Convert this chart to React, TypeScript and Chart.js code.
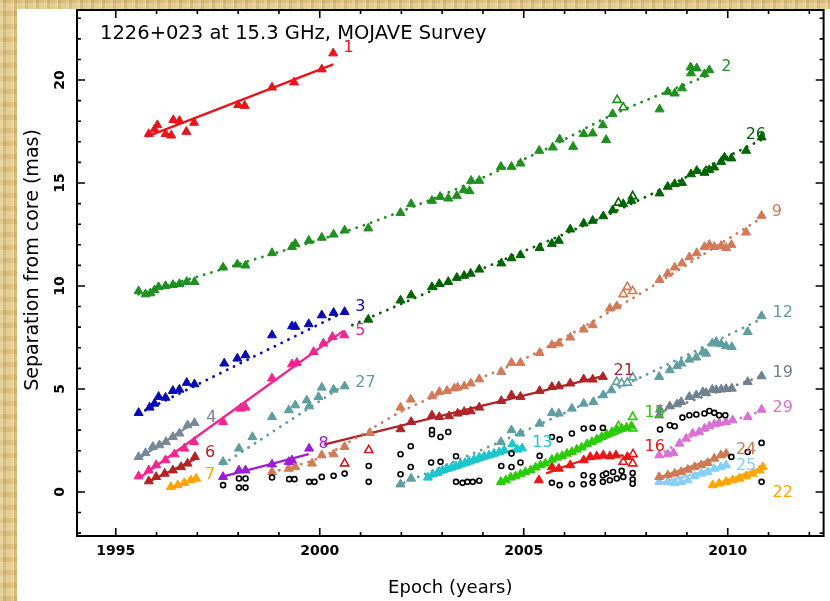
import React, { useEffect, useRef } from "react";
import Chart from "chart.js/auto";

// ---------- axes ----------
const X_MIN = 1994.05;
const X_MAX = 2012.35;
const Y_MIN = -2.14;
const Y_MAX = 23.4;
const xTickLabels = [1995, 2000, 2005, 2010];
const yTickLabels = [0, 5, 10, 15, 20];
const TITLE = "1226+023 at 15.3 GHz, MOJAVE Survey";
const X_TITLE = "Epoch (years)";
const Y_TITLE = "Separation from core (mas)";

// ---------- component 1 ----------
const s1X = [1995.81, 1995.95, 1996.02, 1996.22, 1996.36, 1996.41, 1996.56, 1996.73, 1996.92, 1998.0, 1998.16, 1998.83, 1999.37, 2000.05, 2000.33];
const s1Y = [17.38, 17.6, 17.81, 17.38, 17.31, 18.06, 18.02, 17.49, 17.93, 18.79, 18.75, 19.64, 19.89, 20.52, 21.3];
const fit1X = [1995.76, 2000.33];
const fit1Y = [17.25, 20.76];

// ---------- component 2 ----------
const s2X = [1995.56, 1995.73, 1995.85, 1995.95, 1996.05, 1996.22, 1996.4, 1996.56, 1996.74, 1996.93, 1997.63, 1997.98, 1998.18, 1998.83, 1999.32, 1999.4, 1999.73, 2000.05, 2000.34, 2000.61, 2001.19, 2001.98, 2002.24, 2002.75, 2002.95, 2003.15, 2003.36, 2003.53, 2003.67, 2003.71, 2003.91, 2004.44, 2004.7, 2004.92, 2005.38, 2005.71, 2005.88, 2006.21, 2006.47, 2006.69, 2006.94, 2007.02, 2007.18, 2008.33, 2008.53, 2008.7, 2008.88, 2009.09, 2009.1, 2009.24, 2009.43, 2009.55];
const s2Y = [9.75, 9.6, 9.65, 9.8, 9.95, 10.0, 10.05, 10.1, 10.2, 10.2, 10.9, 11.05, 11.0, 11.6, 11.9, 12.05, 12.2, 12.35, 12.5, 12.7, 12.8, 13.55, 13.98, 14.14, 14.33, 14.25, 14.38, 14.66, 14.61, 15.11, 15.11, 15.79, 15.79, 15.95, 16.57, 16.73, 17.12, 16.76, 17.38, 17.41, 17.81, 17.09, 18.35, 18.58, 19.43, 19.35, 19.6, 20.62, 20.33, 20.57, 20.29, 20.48];
const s2OpenX = [2007.29, 2007.44];
const s2OpenY = [19.03, 18.67];
const fit2X = [1995.56, 1998.0, 2001.43, 2005.49, 2007.11, 2009.6];
const fit2Y = [9.6, 11.05, 13.2, 16.6, 18.25, 20.3];

// ---------- component 26 ----------
const s26X = [2001.19, 2001.98, 2002.24, 2002.75, 2002.93, 2003.15, 2003.36, 2003.54, 2003.7, 2003.91, 2004.45, 2004.7, 2004.92, 2005.39, 2005.69, 2005.86, 2006.14, 2006.47, 2006.69, 2006.95, 2007.18, 2007.44, 2007.64, 2008.33, 2008.53, 2008.7, 2008.88, 2009.1, 2009.24, 2009.43, 2009.55, 2009.67, 2009.84, 2009.92, 2010.09, 2010.45, 2010.83];
const s26Y = [8.37, 9.3, 9.55, 9.95, 10.1, 10.2, 10.4, 10.5, 10.6, 10.8, 11.1, 11.35, 11.5, 11.85, 12.05, 12.2, 12.75, 13.04, 13.17, 13.39, 13.68, 13.98, 14.14, 14.5, 14.82, 14.95, 15.01, 15.43, 15.59, 15.5, 15.63, 15.76, 16.03, 16.24, 16.2, 16.57, 17.22];
const s26OpenX = [2007.32, 2007.67];
const s26OpenY = [14.04, 14.36];
const fit26X = [2000.8, 2004.0, 2007.0, 2010.83];
const fit26Y = [8.1, 10.85, 13.4, 17.1];

// ---------- component 3 ----------
const s3X = [1995.56, 1995.83, 1995.95, 1996.05, 1996.22, 1996.4, 1996.56, 1996.74, 1996.93, 1997.66, 1997.98, 1998.18, 1998.83, 1999.32, 1999.4, 1999.73, 2000.05, 2000.34, 2000.61];
const s3Y = [3.84, 4.1, 4.29, 4.62, 4.58, 4.91, 4.97, 5.3, 5.23, 6.24, 6.48, 6.64, 7.61, 8.05, 8.02, 8.15, 8.58, 8.7, 8.74];
const fit3X = [1995.56, 2000.61];
const fit3Y = [3.8, 8.75];

// ---------- component 5 ----------
const s5X = [1995.56, 1995.81, 1995.99, 1996.22, 1996.44, 1996.68, 1996.92, 1997.63, 1998.06, 1998.18, 1998.83, 1999.32, 1999.44, 1999.85, 2000.09, 2000.31, 2000.6];
const s5Y = [0.76, 1.05, 1.3, 1.54, 1.83, 2.11, 2.43, 3.4, 4.05, 4.1, 5.51, 6.2, 6.27, 6.8, 7.21, 7.53, 7.61];
const fit5X = [1995.56, 2000.58];
const fit5Y = [0.65, 7.82];

// ---------- component 4 ----------
const s4X = [1995.56, 1995.73, 1995.91, 1996.07, 1996.23, 1996.4, 1996.56, 1996.76, 1996.93];
const s4Y = [1.7, 1.89, 2.19, 2.27, 2.43, 2.67, 2.84, 3.24, 3.35];
const fit4X = [1995.56, 1996.95];
const fit4Y = [1.62, 3.4];

// ---------- component 6 ----------
const s6X = [1995.81, 1995.99, 1996.2, 1996.4, 1996.6, 1996.76, 1996.94];
const s6Y = [0.52, 0.73, 0.89, 1.05, 1.21, 1.38, 1.7];
const fit6X = [1995.81, 1996.95];
const fit6Y = [0.5, 1.6];

// ---------- component 7 ----------
const s7X = [1996.35, 1996.52, 1996.68, 1996.84, 1996.97];
const s7Y = [0.24, 0.33, 0.44, 0.57, 0.65];
const fit7X = [1996.3, 1996.98];
const fit7Y = [0.18, 0.68];

// ---------- component 27 ----------
const s27X = [1997.63, 1998.02, 1998.35, 1998.83, 1999.24, 1999.4, 1999.68, 1999.74, 1999.97, 2000.05, 2000.34, 2000.61];
const s27Y = [1.46, 2.11, 2.67, 3.64, 3.97, 4.21, 4.45, 4.16, 4.61, 5.07, 4.97, 5.13];
const fit27X = [1997.63, 2000.61];
const fit27Y = [1.35, 5.2];

// ---------- component 8 ----------
const s8X = [1997.63, 1998.02, 1998.18, 1998.83, 1999.24, 1999.32, 1999.74];
const s8Y = [0.73, 1.05, 1.05, 1.34, 1.46, 1.54, 2.11];
const fit8X = [1997.59, 1999.73];
const fit8Y = [0.73, 1.83];

// ---------- component 9 ----------
const s9X = [1998.83, 1999.24, 1999.4, 1999.81, 2000.05, 2000.34, 2000.61, 2001.23, 2001.98, 2002.23, 2002.75, 2002.93, 2003.12, 2003.3, 2003.38, 2003.54, 2003.7, 2003.91, 2004.45, 2004.7, 2004.92, 2005.39, 2005.69, 2005.86, 2006.14, 2006.47, 2006.69, 2007.11, 2007.28, 2008.33, 2008.53, 2008.7, 2008.88, 2009.06, 2009.24, 2009.43, 2009.55, 2009.67, 2009.84, 2009.96, 2010.09, 2010.45, 2010.83];
const s9Y = [0.97, 1.13, 1.21, 1.38, 1.78, 1.83, 2.19, 2.87, 4.1, 4.49, 4.65, 4.86, 4.91, 5.03, 5.07, 5.13, 5.27, 5.47, 5.83, 6.27, 6.27, 6.75, 7.13, 7.21, 7.5, 7.89, 8.1, 8.91, 9.02, 10.3, 10.6, 10.9, 11.1, 11.4, 11.6, 11.9, 12.0, 11.9, 11.95, 11.85, 12.0, 12.6, 13.41];
const s9OpenX = [2007.44, 2007.54, 2007.67];
const s9OpenY = [9.6, 9.95, 9.75];
const fit9X = [1998.83, 2000.05, 2001.0, 2002.0, 2005.0, 2007.28, 2010.83];
const fit9Y = [0.95, 1.7, 2.75, 3.9, 6.45, 8.95, 13.3];

// ---------- component 21 ----------
const s21X = [2001.98, 2002.24, 2002.75, 2002.93, 2003.17, 2003.38, 2003.54, 2003.7, 2003.91, 2004.45, 2004.7, 2004.92, 2005.39, 2005.69, 2005.86, 2006.14, 2006.47, 2006.69, 2006.94];
const s21Y = [3.05, 3.4, 3.72, 3.64, 3.68, 3.81, 3.89, 3.92, 4.1, 4.42, 4.7, 4.62, 4.91, 5.1, 5.13, 5.27, 5.47, 5.46, 5.59];
const fit21X = [2000.1, 2006.94];
const fit21Y = [2.3, 5.62];

// ---------- component 12 ----------
const s12X = [2001.98, 2002.24, 2004.44, 2004.7, 2004.92, 2005.39, 2005.69, 2005.86, 2006.18, 2006.47, 2006.71, 2006.95, 2007.15, 2008.32, 2008.58, 2008.76, 2008.86, 2009.06, 2009.23, 2009.39, 2009.47, 2009.62, 2009.72, 2009.84, 2009.96, 2010.1, 2010.49, 2010.83];
const s12Y = [0.37, 0.65, 2.43, 3.0, 2.84, 3.32, 3.84, 3.81, 4.05, 4.29, 4.37, 4.7, 4.94, 5.59, 5.91, 6.11, 6.24, 6.43, 6.53, 6.8, 6.72, 7.21, 7.29, 7.18, 7.08, 7.04, 7.77, 8.54];
const s12OpenX = [2007.28, 2007.4, 2007.54, 2007.67];
const s12OpenY = [5.34, 5.27, 5.3, 5.56];
const fit12X = [2001.9, 2004.5, 2007.0, 2010.83];
const fit12Y = [0.3, 2.5, 4.75, 8.4];

// ---------- component 13 ----------
const s13X = [2002.65, 2002.77, 2002.89, 2003.01, 2003.12, 2003.23, 2003.34, 2003.45, 2003.56, 2003.66, 2003.78, 2003.91, 2004.03, 2004.15, 2004.27, 2004.4, 2004.52, 2004.72, 2004.84, 2004.96];
const s13Y = [0.7, 0.86, 0.92, 1.05, 1.14, 1.19, 1.25, 1.35, 1.41, 1.48, 1.57, 1.67, 1.73, 1.78, 1.86, 1.93, 2.03, 2.32, 2.06, 2.12];
const fit13X = [2002.6, 2004.96];
const fit13Y = [0.65, 2.19];

// ---------- component 15 ----------
const s15X = [2004.44, 2004.56, 2004.68, 2004.8, 2004.92, 2005.04, 2005.17, 2005.29, 2005.41, 2005.53, 2005.69, 2005.82, 2005.94, 2006.06, 2006.18, 2006.3, 2006.42, 2006.55, 2006.67, 2006.79, 2006.91, 2007.03, 2007.16, 2007.28, 2007.4, 2007.52, 2007.64];
const s15Y = [0.49, 0.57, 0.7, 0.76, 0.86, 0.97, 1.05, 1.19, 1.3, 1.38, 1.57, 1.67, 1.75, 1.86, 1.94, 2.06, 2.16, 2.32, 2.43, 2.55, 2.67, 2.8, 2.91, 3.03, 3.08, 3.13, 3.19];
const s15OpenX = [2007.32, 2007.67, 2007.67];
const s15OpenY = [3.19, 3.08, 3.64];
const fit15X = [2004.4, 2007.68];
const fit15Y = [0.45, 3.16];

// ---------- component 16 ----------
const s16X = [2005.37, 2005.69, 2005.86, 2006.14, 2006.47, 2006.63, 2006.79, 2006.95, 2007.11, 2007.26, 2007.54];
const s16Y = [0.57, 1.21, 1.13, 1.3, 1.54, 1.7, 1.73, 1.78, 1.73, 1.78, 1.7];
const s16OpenX = [2007.44, 2007.67, 2007.68];
const s16OpenY = [1.46, 1.38, 1.83];
const fit16X = [2005.55, 2006.5, 2007.45];
const fit16Y = [0.9, 1.55, 1.78];

// ---------- component 19 ----------
const s19X = [2008.32, 2008.34, 2008.58, 2008.76, 2008.86, 2009.06, 2009.23, 2009.39, 2009.47, 2009.62, 2009.72, 2009.84, 2009.96, 2010.1, 2010.49, 2010.83];
const s19Y = [3.72, 4.0, 4.16, 4.26, 4.37, 4.62, 4.7, 4.85, 4.8, 4.97, 4.95, 4.98, 5.0, 5.02, 5.34, 5.62];
const fit19X = [2008.3, 2010.83];
const fit19Y = [3.85, 5.62];

// ---------- component 29 ----------
const s29X = [2008.32, 2008.53, 2008.67, 2008.82, 2008.98, 2009.14, 2009.3, 2009.43, 2009.55, 2009.67, 2009.79, 2009.96, 2010.12, 2010.49, 2010.83];
const s29Y = [1.78, 1.83, 1.89, 2.35, 2.59, 2.84, 2.91, 3.08, 3.19, 3.29, 3.35, 3.4, 3.48, 3.64, 4.0];
const fit29X = [2008.3, 2008.9, 2010.83];
const fit29Y = [1.75, 2.5, 3.95];

// ---------- component 24 ----------
const s24X = [2008.32, 2008.53, 2008.7, 2008.86, 2009.02, 2009.19, 2009.35, 2009.51, 2009.67, 2009.83, 2009.96];
const s24Y = [0.73, 0.81, 0.89, 0.97, 1.08, 1.21, 1.3, 1.41, 1.62, 1.78, 1.86];
const fit24X = [2008.3, 2010.0];
const fit24Y = [0.68, 1.85];

// ---------- component 25 ----------
const s25X = [2008.32, 2008.53, 2008.7, 2008.86, 2009.02, 2009.19, 2009.35, 2009.51, 2009.67, 2009.83, 2009.96];
const s25Y = [0.49, 0.49, 0.44, 0.49, 0.57, 0.76, 0.89, 0.97, 1.13, 1.21, 1.3];
const fit25X = [2008.3, 2010.0];
const fit25Y = [0.4, 1.32];

// ---------- component 22 ----------
const s22X = [2009.63, 2009.79, 2009.96, 2010.12, 2010.29, 2010.45, 2010.61, 2010.78, 2010.86];
const s22Y = [0.33, 0.41, 0.49, 0.57, 0.65, 0.76, 0.89, 1.05, 1.21];
const fit22X = [2009.6, 2010.86];
const fit22Y = [0.28, 1.2];

// ---------- unassigned (open red triangles, black circles) ----------
const redOpenX = [2000.61, 2001.2];
const redOpenY = [1.38, 2.03];
const circX = [1997.63, 1998.02, 1998.18, 1998.02, 1998.18, 1998.83, 1999.25, 1999.38, 1999.74, 1999.87, 2000.05, 2000.34, 2000.61, 2001.2, 2001.2, 2001.98, 2001.98, 2002.23, 2002.23, 2002.75, 2002.75, 2002.96, 2003.15, 2002.73, 2002.96, 2003.34, 2003.34, 2003.5, 2003.62, 2003.75, 2003.91, 2004.45, 2004.7, 2004.7, 2004.92, 2005.39, 2005.69, 2005.88, 2006.18, 2006.47, 2006.69, 2006.94, 2005.69, 2005.88, 2006.18, 2006.47, 2006.47, 2006.69, 2006.69, 2006.94, 2006.94, 2007.02, 2007.11, 2007.19, 2007.28, 2007.4, 2007.44, 2007.67, 2007.67, 2007.67, 2008.34, 2008.58, 2008.7, 2008.89, 2009.06, 2009.23, 2009.43, 2009.55, 2009.67, 2009.79, 2009.94, 2010.09, 2010.49, 2010.83, 2010.83];
const circY = [0.33, 0.65, 0.65, 0.21, 0.21, 0.7, 0.62, 0.62, 0.49, 0.49, 0.73, 0.78, 0.89, 1.26, 0.49, 1.83, 0.86, 2.22, 1.21, 2.8, 3.0, 2.67, 2.91, 1.43, 1.46, 1.73, 0.49, 0.44, 0.49, 0.49, 0.54, 1.26, 1.86, 1.21, 1.43, 1.75, 2.67, 2.55, 2.84, 3.08, 3.11, 3.11, 0.44, 0.33, 0.37, 0.37, 0.81, 0.76, 0.44, 0.49, 0.81, 0.89, 0.57, 0.97, 0.65, 1.02, 0.73, 0.92, 0.6, 0.4, 3.03, 3.24, 3.19, 3.61, 3.72, 3.76, 3.81, 3.93, 3.84, 3.72, 3.72, 1.7, 1.94, 2.38, 0.49];

// ---------- component label anchors (left edge, vertical middle) ----------
const labelNames = ["1", "2", "26", "9", "12", "3", "5", "27", "4", "6", "7", "8", "21", "19", "13", "15", "16", "29", "24", "25", "22"];
const labelX = [2000.58, 2009.84, 2010.44, 2011.08, 2011.1, 2000.87, 2000.87, 2000.87, 1997.22, 1997.19, 1997.19, 1999.97, 2007.2, 2011.1, 2005.21, 2007.96, 2007.96, 2011.1, 2010.2, 2010.2, 2011.1];
const labelY = [21.55, 20.63, 17.33, 13.59, 8.68, 8.97, 7.8, 5.28, 3.58, 1.88, 0.81, 2.32, 5.86, 5.76, 2.37, 3.82, 2.17, 4.07, 2.03, 1.25, -0.06];

// ---------- styles ----------
const COLORS: Record<string, string> = {
  "1": "#e8141b",
  "2": "#1f8f1f",
  "26": "#006400",
  "3": "#0a0ab4",
  "5": "#f5238f",
  "4": "#788896",
  "6": "#b22222",
  "7": "#ffa500",
  "27": "#5f9ea0",
  "8": "#9b1ed2",
  "9": "#d27a58",
  "21": "#b02428",
  "12": "#5f9ea0",
  "13": "#1cc6cc",
  "15": "#2ccb0a",
  "16": "#ec1414",
  "19": "#708090",
  "29": "#da70d6",
  "24": "#cd7a55",
  "25": "#87cefa",
  "22": "#ffa500",
};

type Comp = { id: string; x: number[]; y: number[]; ox?: number[]; oy?: number[]; fx: number[]; fy: number[]; dotted: boolean };

const comps: Comp[] = [
  { id: "1", x: s1X, y: s1Y, fx: fit1X, fy: fit1Y, dotted: false },
  { id: "2", x: s2X, y: s2Y, ox: s2OpenX, oy: s2OpenY, fx: fit2X, fy: fit2Y, dotted: true },
  { id: "26", x: s26X, y: s26Y, ox: s26OpenX, oy: s26OpenY, fx: fit26X, fy: fit26Y, dotted: true },
  { id: "3", x: s3X, y: s3Y, fx: fit3X, fy: fit3Y, dotted: true },
  { id: "5", x: s5X, y: s5Y, fx: fit5X, fy: fit5Y, dotted: false },
  { id: "4", x: s4X, y: s4Y, fx: fit4X, fy: fit4Y, dotted: false },
  { id: "6", x: s6X, y: s6Y, fx: fit6X, fy: fit6Y, dotted: false },
  { id: "7", x: s7X, y: s7Y, fx: fit7X, fy: fit7Y, dotted: false },
  { id: "27", x: s27X, y: s27Y, fx: fit27X, fy: fit27Y, dotted: true },
  { id: "8", x: s8X, y: s8Y, fx: fit8X, fy: fit8Y, dotted: false },
  { id: "9", x: s9X, y: s9Y, ox: s9OpenX, oy: s9OpenY, fx: fit9X, fy: fit9Y, dotted: true },
  { id: "21", x: s21X, y: s21Y, fx: fit21X, fy: fit21Y, dotted: false },
  { id: "12", x: s12X, y: s12Y, ox: s12OpenX, oy: s12OpenY, fx: fit12X, fy: fit12Y, dotted: true },
  { id: "13", x: s13X, y: s13Y, fx: fit13X, fy: fit13Y, dotted: false },
  { id: "15", x: s15X, y: s15Y, ox: s15OpenX, oy: s15OpenY, fx: fit15X, fy: fit15Y, dotted: false },
  { id: "16", x: s16X, y: s16Y, ox: s16OpenX, oy: s16OpenY, fx: fit16X, fy: fit16Y, dotted: false },
  { id: "19", x: s19X, y: s19Y, fx: fit19X, fy: fit19Y, dotted: true },
  { id: "29", x: s29X, y: s29Y, fx: fit29X, fy: fit29Y, dotted: true },
  { id: "24", x: s24X, y: s24Y, fx: fit24X, fy: fit24Y, dotted: false },
  { id: "25", x: s25X, y: s25Y, fx: fit25X, fy: fit25Y, dotted: false },
  { id: "22", x: s22X, y: s22Y, fx: fit22X, fy: fit22Y, dotted: false },
];

const pts = (xs: number[], ys: number[]) => xs.map((v, i) => ({ x: v, y: ys[i] }));

function buildDatasets() {
  const ds: any[] = [];
  comps.forEach((c) => {
    const col = COLORS[c.id];
    ds.push({
      label: "fit " + c.id,
      data: pts(c.fx, c.fy),
      showLine: true,
      pointRadius: 0,
      borderColor: col,
      backgroundColor: col,
      borderWidth: c.dotted ? 2.8 : 2.3,
      borderDash: c.dotted ? [0.1, 7.5] : [],
      borderCapStyle: c.dotted ? "round" : "butt",
      cubicInterpolationMode: "monotone",
      order: 3,
    });
    ds.push({
      label: "comp " + c.id,
      data: pts(c.x, c.y),
      showLine: false,
      pointStyle: "triangle",
      pointRadius: 5.2,
      borderWidth: 1,
      borderColor: col,
      backgroundColor: col,
      order: 1,
    });
    if (c.ox && c.oy) {
      ds.push({
        label: "open " + c.id,
        data: pts(c.ox, c.oy),
        showLine: false,
        pointStyle: "triangle",
        pointRadius: 4.8,
        borderWidth: 1.6,
        borderColor: col,
        backgroundColor: "#ffffff",
        order: 1,
      });
    }
  });
  ds.push({
    label: "red open",
    data: pts(redOpenX, redOpenY),
    showLine: false,
    pointStyle: "triangle",
    pointRadius: 4.8,
    borderWidth: 1.6,
    borderColor: "#d01c1c",
    backgroundColor: "#ffffff",
    order: 1,
  });
  ds.push({
    label: "circles",
    data: pts(circX, circY),
    showLine: false,
    pointStyle: "circle",
    pointRadius: 2.5,
    borderWidth: 1.6,
    borderColor: "#000000",
    backgroundColor: "#ffffff",
    order: 0,
  });
  return ds;
}

const framePlugin = {
  id: "pgframe",
  afterDraw(chart: any) {
    const { ctx, chartArea } = chart;
    const { left, right, top, bottom } = chartArea;
    const xs = chart.scales.x;
    const ys = chart.scales.y;
    ctx.save();
    // labels for components
    ctx.textAlign = "left";
    ctx.textBaseline = "middle";
    ctx.font = "16px 'DejaVu Sans'";
    labelNames.forEach((n, i) => {
      ctx.fillStyle = COLORS[n];
      ctx.fillText(n, xs.getPixelForValue(labelX[i]), ys.getPixelForValue(labelY[i]));
    });
    // frame
    ctx.strokeStyle = "#000";
    ctx.lineWidth = 2;
    ctx.strokeRect(left, top, right - left, bottom - top);
    ctx.lineWidth = 1.6;
    ctx.beginPath();
    for (let yr = Math.ceil(X_MIN); yr <= X_MAX; yr++) {
      const px = xs.getPixelForValue(yr);
      const len = yr % 5 === 0 ? 8 : 4;
      ctx.moveTo(px, bottom);
      ctx.lineTo(px, bottom - len);
      ctx.moveTo(px, top);
      ctx.lineTo(px, top + len);
    }
    for (let v = Math.ceil(Y_MIN); v <= Y_MAX; v++) {
      const py = ys.getPixelForValue(v);
      const len = v % 5 === 0 ? 8 : 4;
      ctx.moveTo(left, py);
      ctx.lineTo(left + len, py);
      ctx.moveTo(right, py);
      ctx.lineTo(right - len, py);
    }
    ctx.stroke();
    // tick labels
    ctx.fillStyle = "#000";
    ctx.font = "bold 14px 'DejaVu Sans'";
    ctx.textAlign = "center";
    ctx.textBaseline = "middle";
    xTickLabels.forEach((t) => {
      ctx.fillText(String(t), xs.getPixelForValue(t), 551);
    });
    yTickLabels.forEach((t) => {
      ctx.save();
      ctx.translate(60, ys.getPixelForValue(t));
      ctx.rotate(-Math.PI / 2);
      ctx.fillText(String(t), 0, 0);
      ctx.restore();
    });
    // titles
    ctx.font = "18px 'DejaVu Sans'";
    ctx.fillText(X_TITLE, (left + right) / 2, 588);
    ctx.save();
    ctx.translate(33, 260);
    ctx.rotate(-Math.PI / 2);
    ctx.font = "19px 'DejaVu Sans'";
    ctx.fillText(Y_TITLE, 0, 0);
    ctx.restore();
    ctx.textAlign = "left";
    ctx.font = "19.5px 'DejaVu Sans'";
    ctx.fillText(TITLE, 100, 34);
    ctx.restore();
  },
};

export default function App() {
  const ref = useRef<HTMLCanvasElement | null>(null);
  useEffect(() => {
    if (!ref.current) return;
    const chart = new Chart(ref.current, {
      type: "scatter",
      data: { datasets: buildDatasets() },
      options: {
        animation: false,
        responsive: false,
        devicePixelRatio: 1,
        layout: { padding: { left: 77, right: 2, top: 10, bottom: 65 } },
        plugins: { legend: { display: false }, tooltip: { enabled: false }, title: { display: false } },
        scales: {
          x: { type: "linear", min: X_MIN, max: X_MAX, display: false },
          y: { type: "linear", min: Y_MIN, max: Y_MAX, display: false },
        },
      },
      plugins: [framePlugin],
    });
    return () => chart.destroy();
  }, []);

  const parchment =
    "repeating-linear-gradient(90deg, rgba(255,250,220,0.22) 0px, rgba(255,250,220,0.22) 3px, rgba(150,110,30,0.14) 3px, rgba(150,110,30,0.14) 6px, rgba(255,255,255,0.06) 6px, rgba(255,255,255,0.06) 11px), repeating-linear-gradient(0deg, rgba(170,130,50,0.16) 0px, rgba(170,130,50,0.16) 5px, rgba(255,245,210,0.12) 5px, rgba(255,245,210,0.12) 13px), #dfc484";

  return (
    <div style={{ position: "fixed", left: 0, top: 0, width: 830, height: 601, background: parchment, overflow: "hidden" }}>
      <div style={{ position: "absolute", left: 17, top: 9, right: 0, bottom: 0, background: "#ffffff" }} />
      <canvas ref={ref} width={830} height={601} style={{ position: "absolute", left: 0, top: 0, width: 830, height: 601 }} />
    </div>
  );
}
